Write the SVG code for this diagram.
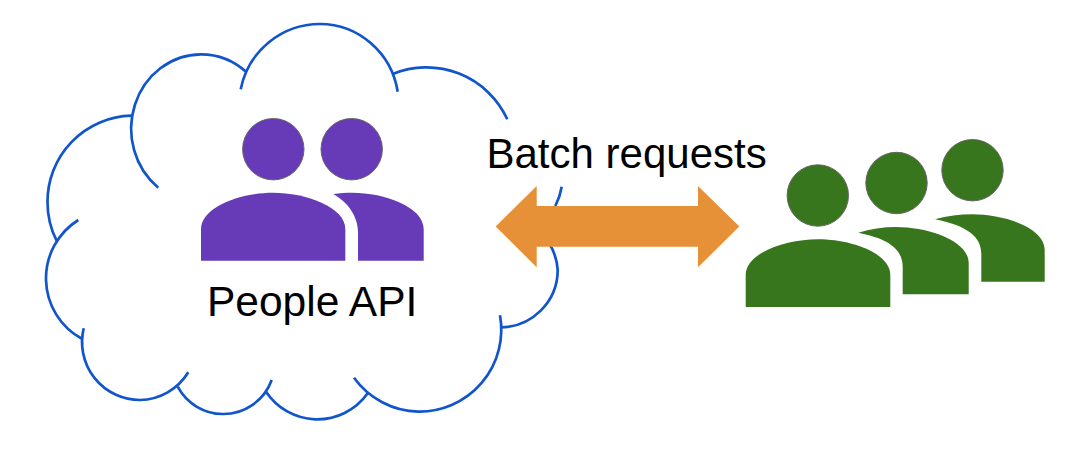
<svg xmlns="http://www.w3.org/2000/svg" width="1086" height="452" viewBox="0 0 1086 452">
<style>
.cloud{fill:none;stroke:#1155cc;stroke-width:2.7}
.purple{fill:#673ab7}
.green{fill:#38761d}
.head{stroke:#666;stroke-width:1}
.label{font-family:"Liberation Sans",Arial,sans-serif;fill:#000;font-size:42px}
</style>
<rect width="1086" height="452" fill="#fff"/>
<g id="cloud" class="cloud">
<path d="M56.7 241A86 86 0 0 1 47.5 202A86 86 0 0 1 131 115.7"/>
<path d="M158.3 187.7A70 74.5 0 0 1 201 54.3A70 74.5 0 0 1 246.7 72.3"/>
<path d="M240.7 89.3A80.8 80.8 0 0 1 320 24A79 80.8 0 0 1 397.7 91.7"/>
<path d="M392.7 74A89 89 0 0 1 507.3 119.3"/>
<path d="M561.7 186.7Q560 197 555.3 206"/>
<path d="M549 243A57.5 57.5 0 0 1 557.7 270A57.5 57.5 0 0 1 500 327.3"/>
<path d="M500 315.3A82 82 0 0 1 418.3 411.7A82 82 0 0 1 354 377.7"/>
<path d="M367.7 393.3A62 62 0 0 1 315 419.3A62 62 0 0 1 266 391.7"/>
<path d="M271.7 380A51.5 51.5 0 0 1 222.7 414A51.5 51.5 0 0 1 177.7 386.7"/>
<path d="M188.3 372.3A58 58 0 0 1 140 400A58 58 0 0 1 83.7 328.3"/>
<path d="M82.7 339.3A69 69 0 0 1 46 280A69 69 0 0 1 78.3 220"/>
</g>
<g id="people-api" class="purple">
<circle class="head" cx="273.3" cy="149.2" r="30.7"/>
<circle class="head" cx="351.7" cy="149.2" r="30.7"/>
<path d="M201 260.7V229C201 207 240 192.7 273 192.7C306 192.7 345.3 207 345.3 229V260.7Z"/>
<path d="M333.3 194C340 193 346 192.7 352 192.7C385 192.7 423.7 207 423.7 229V260.7H358V232C358 215 346 201 333.3 194Z"/>
</g>
<g id="users" class="green">
<circle class="head" cx="972.5" cy="170.2" r="30.7"/>
<circle class="head" cx="896.5" cy="183" r="30.7"/>
<circle class="head" cx="817.8" cy="195.5" r="30.7"/>
<path d="M935 219.3C947 215.8 960 214.3 972 214.3C1005 214.3 1044.7 228 1044.7 250V281.7H981.3V254C981.3 237 968 226 935 219.3Z"/>
<path d="M858.3 232.7C870 228.8 883 227 896 227C929 227 968.7 241 968.7 263V294.3H902.7V267C902.7 250 890 239 858.3 232.7Z"/>
<path d="M745.7 307V275C745.7 253 785 239.3 818 239.3C851 239.3 890.3 253 890.3 275V307Z"/>
</g>
<g id="connectors">
<path id="batch-arrow" fill="#e69138" d="M495.7 226.5L536.7 186V206H698V186L739.3 226.5L698 267.3V246.7H536.7V267.3Z"/>
</g>
<g id="labels">
<text class="label" x="486.5" y="168">Batch requests</text>
<text class="label" x="207" y="316" style="font-size:42.5px">People API</text>
</g>
</svg>
